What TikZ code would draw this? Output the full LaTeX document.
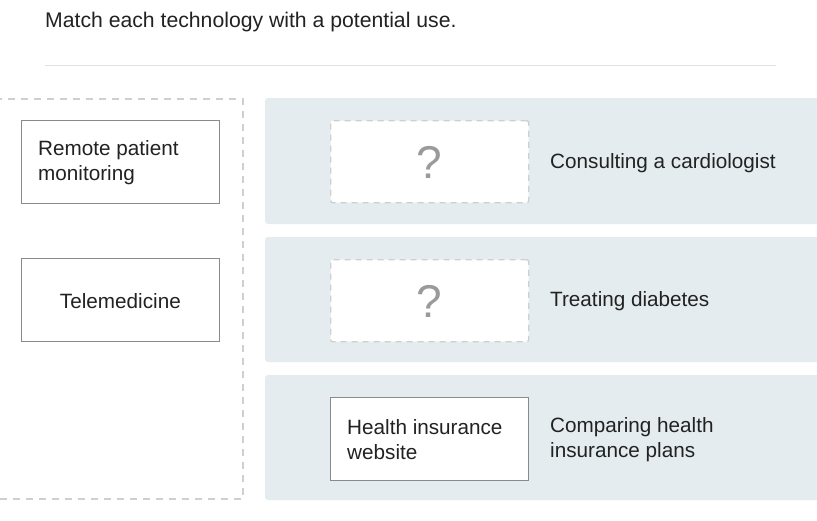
\documentclass[tikz,border=0pt]{standalone}
\usepackage{fontspec}
\setmainfont{Liberation Sans}
\definecolor{panel}{HTML}{E4ECEF}
\definecolor{txt}{HTML}{222222}
\definecolor{dashc}{HTML}{CFCFCF}
\definecolor{cardb}{HTML}{8A8A8A}
\definecolor{qm}{HTML}{9A9A9A}
\begin{document}
\begin{tikzpicture}[x=1pt,y=-1pt,
  card/.style={draw=cardb,line width=0.8pt,fill=white,minimum width=198pt,minimum height=83pt,inner sep=0pt,anchor=north west},
  slot/.style={draw=dashc,line width=1.4pt,dash pattern=on 6pt off 5pt,fill=white,minimum width=198pt,minimum height=82pt,inner sep=0pt,anchor=north west,rounded corners=2pt},
  panelbox/.style={fill=panel,rounded corners=3pt},
  lbl/.style={font=\fontsize{20.7pt}{25pt}\selectfont,text=txt,align=left,anchor=west,inner sep=0pt},
]
\useasboundingbox (0,0) rectangle (817,520);
\fill[white] (0,0) rectangle (817,520);
\node[font=\fontsize{21.2pt}{25pt}\selectfont,text=txt,anchor=base west,inner sep=0pt] (title) at (45,27) {Match each technology with a potential use.};
\draw[color=black!12,line width=0.8pt] (45,65) -- (776,65);
% left pool
\draw[dashc,line width=1.3pt,dash pattern=on 7pt off 6pt] (-5,99) -- (243,99) -- (243,499) -- (-5,499);
\node[card] (c1) at (21,120) {};
\node[lbl] (c1t) at (38,163) {Remote patient\\monitoring};
\node[card] (c2) at (21,258) {};
\node[lbl,anchor=center] (c2t) at ([yshift=-1.5pt]c2.center) {Telemedicine};
% right panels
\fill[panelbox] (265,98) rectangle (830,224);
\fill[panelbox] (265,237) rectangle (830,362);
\fill[panelbox] (265,375) rectangle (830,500);
\node[slot] (s1) at (330,120) {};
\node[font=\fontsize{46pt}{46pt}\selectfont,text=qm] (q1) at ([yshift=-1pt]s1.center) {?};
\node[slot] (s2) at (330,259) {};
\node[font=\fontsize{46pt}{46pt}\selectfont,text=qm] (q2) at ([yshift=-1pt]s2.center) {?};
\node[card] (c3) at (330,397) {};
\node[lbl] (c3t) at (347,440) {Health insurance\\website};
\node[lbl] (u1) at (550,163) {Consulting a cardiologist};
\node[lbl] (u2) at (550,301.5) {Treating diabetes};
\node[lbl] (u3) at (550,440) {Comparing health\\insurance plans};
\end{tikzpicture}
\end{document}
